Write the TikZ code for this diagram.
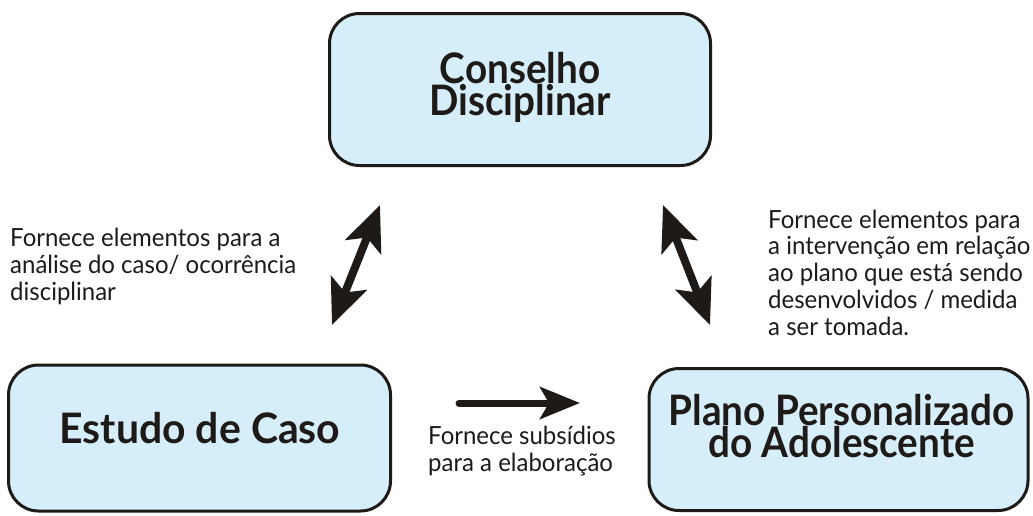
\documentclass[tikz,border=0pt]{standalone}
\usepackage{fontspec}
\setmainfont{Lato}
\newfontfamily\lblfont[FakeStretch=0.96]{Lato}
\newfontfamily\ttlfont[FakeStretch=0.92]{Lato}
\newfontfamily\ttlwide[FakeStretch=0.975]{Lato}
\usetikzlibrary{arrows.meta}
\definecolor{boxblue}{RGB}{214,237,250}
\definecolor{ink}{RGB}{30,26,24}
\tikzset{
  box/.style={draw=ink, line width=3pt, fill=boxblue, rounded corners=30pt, inner sep=0pt},
  ttl/.style={font=\ttlfont\bfseries\fontsize{42}{32}\selectfont, text=ink, align=center, inner sep=0pt, anchor=base},
  lbl/.style={font=\lblfont\fontsize{25}{26.7}\selectfont, text=ink, align=left, inner sep=0pt, anchor=base west},
  big/.style={{Stealth[length=45pt,width=38pt,inset=10pt]}-{Stealth[length=45pt,width=38pt,inset=10pt]}, line width=8pt, draw=ink},
  one/.style={-{Stealth[length=40pt,width=32pt,inset=9pt]}, line width=7pt, draw=ink, line cap=round}
}
\begin{document}
\begin{tikzpicture}[x=1pt,y=-1pt]
\useasboundingbox (0,0) rectangle (1033,515);
% boxes
\node[box, minimum width=381pt, minimum height=152pt] (cd) at (520,89.5) {};
\node[box, minimum width=382pt, minimum height=146pt] (ec) at (199.5,438) {};
\node[box, minimum width=379pt, minimum height=142pt] (pp) at (838.5,439.5) {};
% titles (base anchor = baseline of last line)
\node[ttl] (cdt) at (520,115) {Conselho\\Disciplinar};
\node[ttl, font=\ttlwide\bfseries\fontsize{42}{32}\selectfont] (ect) at (200,443) {Estudo de Caso};
\node[ttl] (ppt) at (841.5,457) {Plano Personalizado\\do Adolescente};
% labels
\node[lbl] (l1) at (10,300) {Fornece elementos para a\\an\'alise do caso/ ocorr\^encia\\disciplinar};
\node[lbl] (l2) at (768,335) {Fornece elementos para\\a interven\c{c}\~ao em rela\c{c}\~ao\\ao plano que est\'a sendo\\desenvolvidos / medida\\a ser tomada.};
\node[lbl] (l3) at (428,471) {Fornece subs\'idios\\para a elabora\c{c}\~ao};
% arrow ends
\coordinate (a1) at (332,325);
\coordinate (a2) at (380,205);
\coordinate (b1) at (663,205);
\coordinate (b2) at (710,325);
\coordinate (c1) at (459,403);
\coordinate (c2) at (580,403);
\draw[big] (a1) -- (a2);
\draw[big] (b1) -- (b2);
\draw[one] (c1) -- (c2);
\end{tikzpicture}
\end{document}
